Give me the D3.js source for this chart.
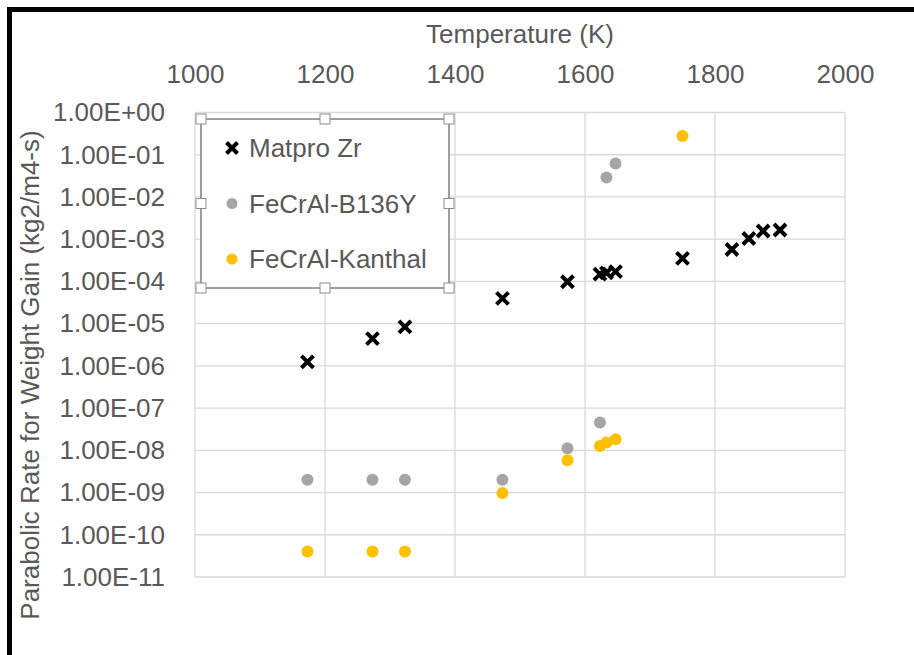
<!DOCTYPE html>
<html>
<head>
<meta charset="utf-8">
<script src="https://cdn.jsdelivr.net/npm/d3@7"></script>
<style>
  body { margin: 0; background: #fff; }
  svg { display: block; font-family: "Liberation Sans", Arial, sans-serif; }
</style>
</head>
<body>
<svg id="chart" width="914" height="655"></svg>
<script>
// temperatures (K) and parabolic rate constants (kg2/m4-s)
const matproT = [1173, 1273, 1323, 1473, 1573, 1623, 1633, 1647, 1750, 1826, 1852, 1874, 1900]
const matproK = [1.24e-6, 4.4e-6, 8.4e-6, 3.95e-5, 9.8e-5, 1.49e-4, 1.6e-4, 1.7e-4, 3.5e-4, 5.7e-4, 1.04e-3, 1.56e-3, 1.65e-3]
const b136yT = [1173, 1273, 1323, 1473, 1573, 1623, 1633, 1647]
const b136yK = [2e-9, 2e-9, 2e-9, 2e-9, 1.12e-8, 4.55e-8, 2.9e-2, 6.2e-2]
const kanthalT = [1173, 1273, 1323, 1473, 1573, 1623, 1633, 1647, 1750]
const kanthalK = [4e-11, 4e-11, 4e-11, 9.8e-10, 5.8e-9, 1.26e-8, 1.53e-8, 1.82e-8, 0.277]

const xTicks = [1000, 1200, 1400, 1600, 1800, 2000]
const yTicks = [1, 1e-1, 1e-2, 1e-3, 1e-4, 1e-5, 1e-6, 1e-7, 1e-8, 1e-9, 1e-10, 1e-11]
const seriesNames = ['Matpro Zr', 'FeCrAl-B136Y', 'FeCrAl-Kanthal']

const textCol = '#595959'
const gridCol = '#d9d9d9'
const fontSize = 26

let svg = d3.select('#chart')

// frame of the screenshot
svg.append('path')
    .attr('d', 'M9.5,655 V9.5 H914')
    .attr('fill', 'none')
    .attr('stroke', '#000')
    .attr('stroke-width', 5)

let x = d3.scaleLinear().domain([1000, 2000]).range([195, 845])
let y = d3.scaleLog().domain([1e-11, 1]).range([577, 112.5])

function fmtSci(v){
    let e = Math.round(Math.log10(v))
    return '1.00E' + (e >= 0 ? '+' : '-') + String(Math.abs(e)).padStart(2, '0')
}

// gridlines
svg.append('g').selectAll('line')
    .data(xTicks)
    .join('line')
    .attr('x1', d => x(d)).attr('x2', d => x(d))
    .attr('y1', y(1)).attr('y2', y(1e-11))
    .attr('stroke', gridCol).attr('stroke-width', 1.3)
svg.append('g').selectAll('line')
    .data(yTicks)
    .join('line')
    .attr('x1', x(1000)).attr('x2', x(2000))
    .attr('y1', d => y(d)).attr('y2', d => y(d))
    .attr('stroke', gridCol).attr('stroke-width', 1.3)

// axes (labels only)
let xAxis = svg.append('g')
    .attr('transform', `translate(0,${y(1)})`)
    .call(d3.axisTop(x).tickValues(xTicks).tickSize(0).tickPadding(29.5).tickFormat(d3.format('d')))
let yAxis = svg.append('g')
    .attr('transform', `translate(${x(1000)},0)`)
    .call(d3.axisLeft(y).tickValues(yTicks).tickSize(0).tickPadding(30).tickFormat(fmtSci))
;[xAxis, yAxis].forEach(a => {
    a.select('.domain').remove()
    a.selectAll('text')
        .attr('fill', textCol)
        .attr('font-size', fontSize)
        .attr('font-family', '"Liberation Sans", Arial, sans-serif')
})

// axis titles
svg.append('text')
    .text('Temperature (K)')
    .attr('x', 520).attr('y', 43)
    .attr('text-anchor', 'middle')
    .attr('fill', textCol)
    .attr('font-size', fontSize)
svg.append('text')
    .text('Parabolic Rate for Weight Gain (kg2/m4-s)')
    .attr('transform', 'translate(39,375)rotate(-90)')
    .attr('text-anchor', 'middle')
    .attr('fill', textCol)
    .attr('font-size', fontSize)

// markers
function cross(g, s){
    g.append('path')
        .attr('d', `M${-s},${-s}L${s},${s}M${-s},${s}L${s},${-s}`)
        .attr('stroke', '#000')
        .attr('stroke-width', 4)
        .attr('fill', 'none')
}

let pts = svg.append('g')
pts.selectAll('g.matpro')
    .data(matproT.map((t, i) => [t, matproK[i]]))
    .join('g')
    .attr('class', 'matpro')
    .attr('transform', d => `translate(${x(d[0])},${y(d[1])})`)
    .each(function (){ cross(d3.select(this), 6) })
pts.selectAll('circle.b136y')
    .data(b136yT.map((t, i) => [t, b136yK[i]]))
    .join('circle')
    .attr('class', 'b136y')
    .attr('cx', d => x(d[0])).attr('cy', d => y(d[1]))
    .attr('r', 6).attr('fill', '#a5a5a5')
pts.selectAll('circle.kanthal')
    .data(kanthalT.map((t, i) => [t, kanthalK[i]]))
    .join('circle')
    .attr('class', 'kanthal')
    .attr('cx', d => x(d[0])).attr('cy', d => y(d[1]))
    .attr('r', 6).attr('fill', '#ffc000')

// legend (selected in Excel, so it has handles)
let lg = svg.append('g')
lg.append('rect')
    .attr('x', 201).attr('y', 119).attr('width', 248).attr('height', 169)
    .attr('fill', '#fff').attr('stroke', '#7f7f7f').attr('stroke-width', 1.5)
let handles = []
;[201, 325, 449].forEach(hx => [119, 203.5, 288].forEach(hy => {
    if (!(hx === 325 && hy === 203.5)) handles.push([hx, hy])
}))
lg.selectAll('rect.handle')
    .data(handles)
    .join('rect')
    .attr('class', 'handle')
    .attr('x', d => d[0] - 5).attr('y', d => d[1] - 5)
    .attr('width', 10).attr('height', 10)
    .attr('fill', '#fff').attr('stroke', '#8c8c8c').attr('stroke-width', 1)

let rowY = [148, 203.5, 259]
seriesNames.forEach((name, i) => {
    let g = lg.append('g').attr('transform', `translate(232,${rowY[i]})`)
    if (i === 0) cross(g, 5.5)
    else g.append('circle').attr('r', 5.5).attr('fill', i === 1 ? '#a5a5a5' : '#ffc000')
    lg.append('text')
        .text(name)
        .attr('x', 249).attr('y', rowY[i])
        .attr('dy', '0.35em')
        .attr('fill', textCol)
        .attr('font-size', fontSize)
})
</script>
</body>
</html>
